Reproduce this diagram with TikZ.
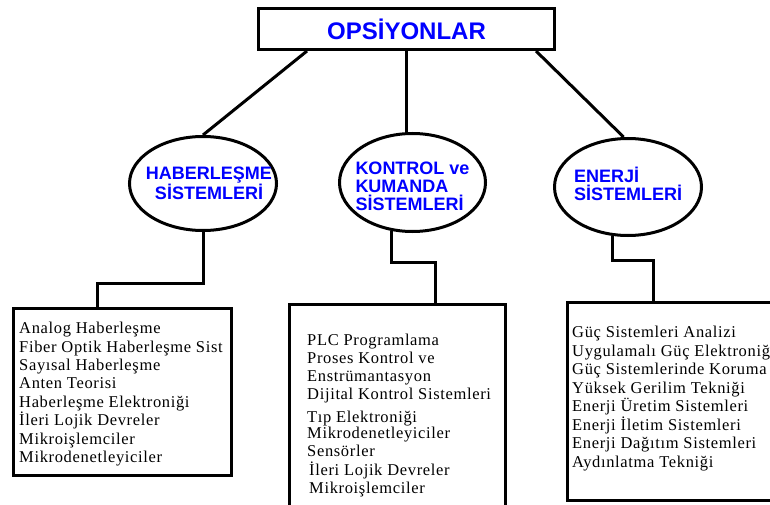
\documentclass[tikz,border=0pt]{standalone}
\usepackage{fontspec}
\usetikzlibrary{shapes.geometric}
\newfontfamily\basfont{Liberation Sans}
\newfontfamily\listefont{Liberation Serif}[LetterSpace=4]
\begin{document}
\begin{tikzpicture}[x=1pt,y=-1pt,
baslik/.style={rectangle,draw=black,line width=3pt,minimum width=296pt,minimum height=41pt,inner sep=0pt,text=blue,font=\basfont\bfseries\fontsize{24}{24}\selectfont},
dal/.style={ellipse,draw=black,line width=3pt,inner sep=0pt},
yazi/.style={inner sep=0pt,text=blue,font=\basfont\bfseries\fontsize{18}{18}\selectfont},
kutu/.style={rectangle,draw=black,line width=3pt,inner sep=0pt},
liste/.style={anchor=north west,inner sep=0pt,align=left,font=\listefont\fontsize{16.5}{18.4}\selectfont}]
\def\lw{3pt};
\useasboundingbox (0,0) rectangle (770,505);
\node[baslik] (O) at (406.5,29) {OPSİYONLAR};
\node[dal,minimum width=147pt,minimum height=94pt,label={[yazi,align=center,xshift=6pt]center:{HABERLEŞME\\SİSTEMLERİ}}] (E1) at (203,183.5) {};
\node[dal,minimum width=146pt,minimum height=98pt,label={[yazi,align=left,yshift=-4pt]center:{KONTROL ve\\KUMANDA\\SİSTEMLERİ}}] (E2) at (412.5,182.5) {};
\node[dal,minimum width=147pt,minimum height=97pt,label={[yazi,align=left,yshift=3pt]center:{ENERJİ\\SİSTEMLERİ}}] (E3) at (628,187) {};
\node[kutu,minimum width=218pt,minimum height=167pt] (K1) at (122.5,392) {};
\node[kutu,minimum width=216pt,minimum height=235.5pt] (K2) at (397.5,422.25) {};
\node[kutu,minimum width=232.5pt,minimum height=198pt] (K3) at (683.75,401.5) {};
\node[liste] (L1) at (19,322) {Analog Haberleşme\\Fiber Optik Haberleşme Sist\\Sayısal Haberleşme\\Anten Teorisi\\Haberleşme Elektroniği\\İleri Lojik Devreler\\Mikroişlemciler\\Mikrodenetleyiciler};
\node[liste,font=\listefont\fontsize{16.5}{18}\selectfont] (L2) at (307,334) {PLC Programlama\\Proses Kontrol ve\\Enstrümantasyon\\Dijital Kontrol Sistemleri\\[5pt]Tıp Elektroniği\\[-2pt]Mikrodenetleyiciler\\Sensörler\\[1pt]\hspace*{2pt}İleri Lojik Devreler\\\hspace*{2pt}Mikroişlemciler};
\node[liste,font=\listefont\fontsize{16.5}{18.5}\selectfont] (L3) at (572,326) {Güç Sistemleri Analizi\\Uygulamalı Güç Elektroniği\\Güç Sistemlerinde Koruma\\Yüksek Gerilim Tekniği\\Enerji Üretim Sistemleri\\Enerji İletim Sistemleri\\Enerji Dağıtım Sistemleri\\Aydınlatma Tekniği};
\draw[line width=\lw] ([xshift=50pt]O.south west) -- (E1.north);
\draw[line width=\lw] (O.south) -- (O.south |- E2.north);
\draw[line width=\lw] ([xshift=-20pt]O.south east) -- (E3.95);
\coordinate (k1) at (97,283.5);
\coordinate (k2) at (435,262);
\coordinate (k3) at (653,260.5);
\draw[line width=\lw] (E1.south) |- (k1) -- (k1 |- K1.north);
\draw[line width=\lw] (E2.-113) |- (k2) -- (k2 |- K2.north);
\draw[line width=\lw] (E3.-108) |- (k3) -- (k3 |- K3.north);
\end{tikzpicture}
\end{document}
